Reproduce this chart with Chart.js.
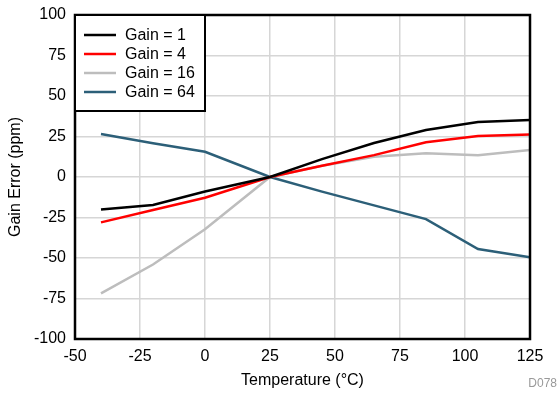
<!DOCTYPE html>
<html>
<head>
<meta charset="utf-8">
<script src="https://cdn.jsdelivr.net/npm/chart.js@4/dist/chart.umd.min.js"></script>
<style>
  html, body { margin: 0; padding: 0; background: #fff; }
  #wrap { width: 558px; height: 393px; position: relative; }
</style>
</head>
<body>
<div id="wrap"><canvas id="gainChart"></canvas></div>
<script>
  // temperature points (°C)
  const temps = [-40, -20, 0, 25, 45, 65, 85, 105, 125];

  // gain error in ppm
  const gain1 = [-20, -17.3, -9, 0, 11, 21, 29, 34, 35.2];
  const gain4 = [-28, -20.4, -12.8, 0, 7, 13.5, 21.5, 25.3, 26.3];
  const gain16 = [-71.8, -54, -32.3, 0, 7, 12.5, 14.6, 13.4, 16.7];
  const gain64 = [26.5, 20.8, 15.6, 0, -9, -17.5, -26, -44.5, -49.6];

  const seriesNames = ["Gain = 1", "Gain = 4", "Gain = 16", "Gain = 64"];
  const seriesColors = ["#000000", "#ff0000", "#bdbdbd", "#2c5f78"];
  const seriesValues = [gain1, gain4, gain16, gain64];

  const FONT = "'Liberation Sans', Arial, Helvetica, sans-serif";

  const toPoints = (vals) => temps.map((t, i) => ({ x: t, y: vals[i] }));

  // frame around plot + boxed legend in the upper left corner
  const framePlugin = {
    id: "frameAndLegend",
    afterDatasetsDraw(chart) {
      const ctx = chart.ctx;
      const a = chart.chartArea;
      ctx.save();

      ctx.strokeStyle = "#000";
      ctx.lineWidth = 2.5;
      ctx.strokeRect(a.left, a.top, a.right - a.left, a.bottom - a.top);

      // legend box
      const bw = 130, bh = 96;
      ctx.fillStyle = "#fff";
      ctx.fillRect(a.left, a.top, bw, bh);
      ctx.lineWidth = 2;
      ctx.strokeRect(a.left, a.top, bw, bh);

      ctx.font = "16px " + FONT;
      ctx.textBaseline = "middle";
      chart.data.datasets.forEach((ds, i) => {
        const y = a.top + 20 + i * 19;
        ctx.strokeStyle = ds.borderColor;
        ctx.lineWidth = 2.5;
        ctx.beginPath();
        ctx.moveTo(a.left + 9, y);
        ctx.lineTo(a.left + 41, y);
        ctx.stroke();
        ctx.fillStyle = "#000";
        ctx.fillText(ds.label, a.left + 50, y + 1);
      });

      // figure id
      ctx.font = "12px " + FONT;
      ctx.fillStyle = "#999";
      ctx.textAlign = "right";
      ctx.fillText("D078", 557, 384);
      ctx.restore();
    }
  };

  const ctx = document.getElementById("gainChart").getContext("2d");
  new Chart(ctx, {
    type: "line",
    data: {
      datasets: seriesValues.map((vals, i) => ({
        label: seriesNames[i],
        data: toPoints(vals),
        borderColor: seriesColors[i],
        backgroundColor: seriesColors[i],
        borderWidth: 2.5,
        pointRadius: 0,
        tension: 0,
        fill: false
      }))
    },
    options: {
      responsive: true,
      maintainAspectRatio: false,
      animation: false,
      devicePixelRatio: 1,
      layout: { padding: { left: 6, right: 28, top: 15, bottom: 0 } },
      plugins: {
        legend: { display: false },
        tooltip: { enabled: false }
      },
      scales: {
        x: {
          type: "linear",
          min: -50,
          max: 125,
          afterFit: (s) => { s.height = 54; },
          ticks: {
            stepSize: 25,
            padding: 8,
            color: "#000",
            font: { size: 16, family: FONT },
            maxRotation: 0
          },
          grid: { color: "#d6d6d6", lineWidth: 1.5, drawTicks: false },
          border: { display: false },
          title: {
            display: true,
            text: "Temperature (°C)",
            color: "#000",
            font: { size: 16, family: FONT },
            padding: { top: 2, bottom: 3 }
          }
        },
        y: {
          min: -100,
          max: 100,
          afterFit: (s) => {
            s.width = 69;
            s.paddingTop = 8;
            s.paddingBottom = 8;
          },
          ticks: {
            stepSize: 25,
            padding: 9,
            color: "#000",
            font: { size: 16, family: FONT }
          },
          grid: { color: "#d6d6d6", lineWidth: 1.5, drawTicks: false },
          border: { display: false },
          title: {
            display: true,
            text: "Gain Error (ppm)",
            color: "#000",
            font: { size: 16, family: FONT },
            padding: { top: 0, bottom: 0 }
          }
        }
      }
    },
    plugins: [framePlugin]
  });
</script>
</body>
</html>
